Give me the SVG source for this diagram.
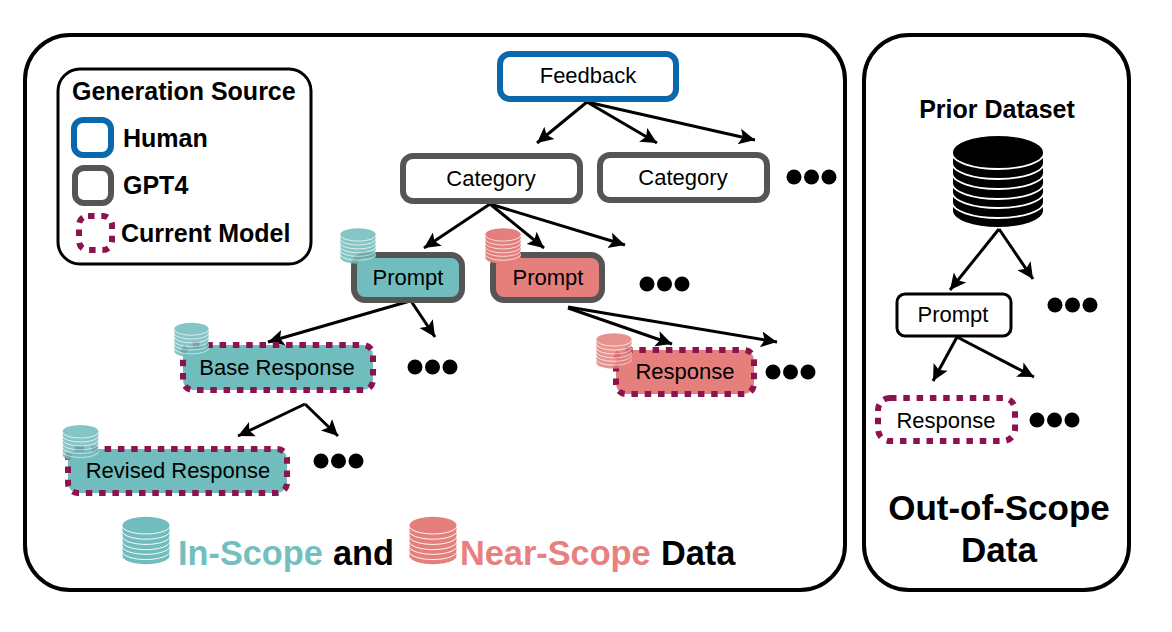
<svg xmlns="http://www.w3.org/2000/svg" width="1172" height="632" viewBox="0 0 1172 632">
<style>
text{font-family:"Liberation Sans",Arial,sans-serif;fill:#000}
.t{font-size:22px;text-anchor:middle}
.b{font-weight:bold}
.l{font-size:25px}
.c{font-size:34.3px}
.o{font-size:35px;text-anchor:middle}
.panel{fill:#fff;stroke:#000;stroke-width:4}
.human{fill:#fff;stroke:#0a68ad;stroke-width:6}
.gpt{fill:#fff;stroke:#555;stroke-width:6}
.cur{fill:#fff;stroke:#8a1350;stroke-width:6;stroke-dasharray:6.5 6.8}
.arrow{fill:none;stroke:#000;stroke-width:3;marker-end:url(#ah)}
.dbt{color:#71bcbd}
.dbr{color:#e47f7c}
.dbk{color:#000}
.ov{opacity:.85}
</style>
<defs>
<marker id="ah" markerUnits="userSpaceOnUse" markerWidth="20" markerHeight="20" refX="16" refY="9" orient="auto">
<path d="M0,1 L16,9 L0,17 L3.5,9 Z" fill="#000"/>
</marker>
<symbol id="db" viewBox="0 0 92 91">
<path d="M1,16 V75 A45,16 0 0 0 91,75 V16 Z" fill="currentColor"/>
<ellipse cx="46" cy="16" rx="45" ry="16" fill="currentColor"/>
<path d="M0,17 A46,16 0 0 0 92,17 M0,27 A46,16 0 0 0 92,27 M0,37 A46,16 0 0 0 92,37 M0,47 A46,16 0 0 0 92,47 M0,56 A46,16 0 0 0 92,56 M0,66 A46,16 0 0 0 92,66" fill="none" stroke="#fff" stroke-width="1.8"/>
</symbol>
<g id="dots"><circle cx="0" cy="0" r="7.5"/><circle cx="17.5" cy="0" r="7.5"/><circle cx="35" cy="0" r="7.5"/></g>
</defs>
<rect width="1172" height="632" fill="#fff"/>
<rect id="scope-panel" class="panel" x="25" y="35" width="820" height="555" rx="45"/>
<rect id="oos-panel" class="panel" x="864" y="35" width="265" height="555" rx="45"/>

<g id="connectors">
<path class="arrow" d="M587,102 L537,143"/>
<path class="arrow" d="M587,102 L657,143"/>
<path class="arrow" d="M587,102 L755,140"/>
<path class="arrow" d="M490,204 L424,248"/>
<path class="arrow" d="M490,204 L544,248"/>
<path class="arrow" d="M490,204 L625,245"/>
<path class="arrow" d="M410,301 L268,342"/>
<path class="arrow" d="M411,301 L435,337"/>
<path class="arrow" d="M568,308 L672,344"/>
<path class="arrow" d="M568,307 L777,342"/>
<path class="arrow" d="M305,404 L238,436"/>
<path class="arrow" d="M305,404 L338,436"/>
<path class="arrow" d="M999,229 L950,290"/>
<path class="arrow" d="M999,229 L1033,279"/>
<path class="arrow" d="M957,337 L933,381"/>
<path class="arrow" d="M957,337 L1034,377"/>
</g>

<g id="legend">
<rect x="58" y="69" width="253" height="195" rx="22" fill="#fff" stroke="#000" stroke-width="3"/>
<text x="72" y="100" class="b l">Generation Source</text>
<rect class="human" x="74" y="120" width="37" height="35" rx="9"/>
<text x="123" y="147" class="b l">Human</text>
<rect class="gpt" x="75" y="168" width="36" height="35" rx="9"/>
<text x="123" y="194" class="b l">GPT4</text>
<rect class="cur" x="79" y="216" width="33" height="34" rx="9"/>
<text x="121" y="242" class="b l">Current Model</text>
</g>

<g id="feedback"><rect class="human" x="500" y="54" width="176" height="45" rx="10"/><text class="t" x="588" y="83">Feedback</text></g>
<g id="category-1"><rect class="gpt" x="403" y="156" width="177" height="45" rx="10"/><text class="t" x="491" y="186">Category</text></g>
<g id="category-2"><rect class="gpt" x="600" y="155" width="167" height="45" rx="10"/><text class="t" x="683" y="185">Category</text></g>

<g id="prompt-teal"><rect class="gpt" style="fill:#71bcbd" x="354" y="255" width="108" height="45" rx="11"/><text class="t" x="408" y="285">Prompt</text>
<use class="dbt ov" href="#db" x="340" y="228" width="36" height="36"/></g>
<g id="prompt-red"><rect class="gpt" style="fill:#e47f7c" x="493" y="255" width="109" height="45" rx="11"/><text class="t" x="548" y="285">Prompt</text>
<use class="dbr" href="#db" x="485" y="228" width="36" height="36"/></g>

<g id="base-response"><rect class="cur" style="fill:#71bcbd" x="183" y="345" width="190" height="45" rx="10"/><text class="t" x="277" y="375">Base Response</text>
<use class="dbt ov" href="#db" x="174" y="322" width="35" height="36"/></g>
<g id="revised-response"><rect class="cur" style="fill:#71bcbd" x="68" y="449" width="219" height="44" rx="10"/><text class="t" x="178" y="478">Revised Response</text>
<use class="dbt ov" href="#db" x="62" y="425" width="37" height="36"/></g>
<g id="response-red"><rect class="cur" style="fill:#e47f7c" x="616" y="350" width="138" height="44" rx="10"/><text class="t" x="685" y="379">Response</text>
<use class="dbr ov" href="#db" x="596" y="333" width="36" height="36"/></g>

<g id="prior-dataset"><text x="997" y="118" class="b l" text-anchor="middle">Prior Dataset</text>
<use class="dbk" href="#db" x="952" y="136" width="92" height="91"/></g>
<g id="prompt-white"><rect x="897" y="294" width="114" height="42" rx="8" fill="#fff" stroke="#000" stroke-width="3"/><text class="t" x="953" y="322">Prompt</text></g>
<g id="response-white"><rect class="cur" x="878" y="398" width="137" height="43" rx="12"/><text class="t" x="946" y="428">Response</text></g>

<g id="ellipses">
<use href="#dots" x="794" y="177"/>
<use href="#dots" x="647" y="284"/>
<use href="#dots" x="415" y="367"/>
<use href="#dots" x="773" y="372"/>
<use href="#dots" x="321" y="461"/>
<use href="#dots" x="1055" y="305"/>
<use href="#dots" x="1037" y="420"/>
</g>

<g id="caption">
<use class="dbt" href="#db" x="122" y="516" width="48" height="49"/>
<text x="178" y="565" class="b c" style="fill:#73bfc0">In-Scope</text>
<text x="333" y="565" class="b c">and</text>
<use class="dbr" href="#db" x="409" y="516" width="48" height="49"/>
<text x="460" y="565" class="b c" style="fill:#e88080">Near-Scope</text>
<text x="661" y="565" class="b c">Data</text>
</g>
<g id="oos-caption">
<text x="999" y="520" class="b o">Out-of-Scope</text>
<text x="999" y="562" class="b o">Data</text>
</g>
</svg>
